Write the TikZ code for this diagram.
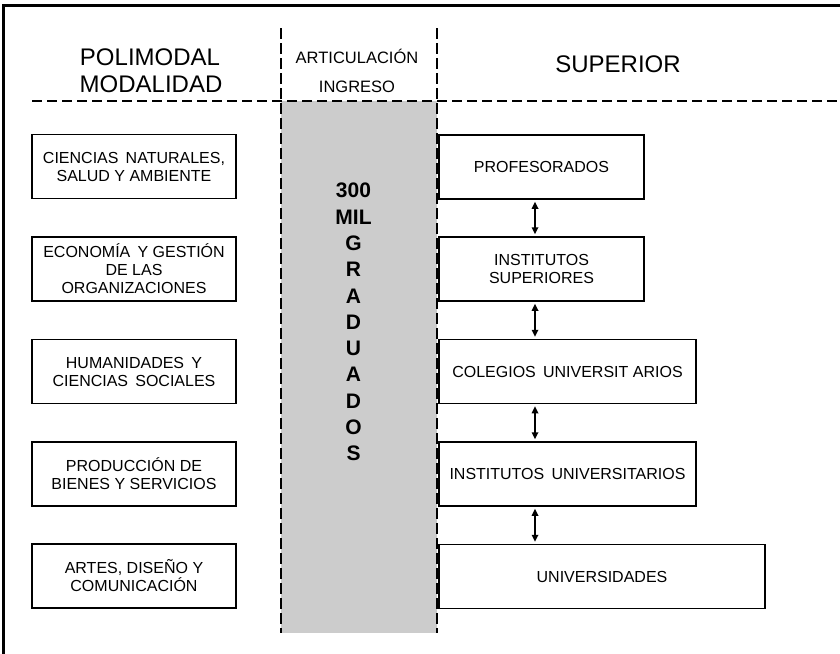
\documentclass[tikz,border=0pt]{standalone}
\usepackage{fontspec}
\setmainfont{Liberation Sans}
\usetikzlibrary{arrows.meta}
\definecolor{colgray}{RGB}{204,204,204}
\newcommand{\wsp}{\hspace{0.45em}}
\begin{document}
\begin{tikzpicture}[x=1pt,y=-1pt,
  box/.style={draw,line width=1.5pt,inner sep=0pt,minimum height=64pt,align=center,font=\fontsize{16}{18}\selectfont},
  hdrbig/.style={font=\fontsize{24}{27}\selectfont,inner sep=0pt,anchor=base},
  hdrsmall/.style={font=\fontsize{16.5}{29}\selectfont,inner sep=0pt,anchor=base},
  hdash/.style={line width=1.3pt,dash pattern=on 10pt off 5pt},
  vdash/.style={line width=1.3pt,dash pattern=on 11pt off 4pt},
  dbl/.style={line width=1.6pt,{Triangle[length=7pt,width=6.5pt]}-{Triangle[length=7pt,width=6.5pt]},shorten <=2pt,shorten >=2pt}
]
\useasboundingbox (0,0) rectangle (840,653);
\fill[white] (0,0) rectangle (840,653);
\fill[colgray] (281,101) rectangle (437,633);
\draw[line width=2.3pt] (3.5,660) -- (3.5,5.5) -- (845,5.5);

\draw[hdash] (32,101) -- (840,101);
\draw[vdash] (281,28) -- (281,633);
\draw[vdash] (437,28) -- (437,633);

\node[hdrbig] (pol1) at (150,65) {POLIMODAL};
\node[hdrbig] (pol2) at (151,92) {MODALIDAD};
\node[hdrsmall] (art1) at (357,63) {ARTICULACIÓN};
\node[hdrsmall] (art2) at (357,92) {INGRESO};
\node[hdrbig] (sup) at (618,72.7) {SUPERIOR};

\node[anchor=north,inner sep=0pt,align=center,font=\fontsize{21}{26.3}\selectfont\bfseries] (grad) at (353.5,183)
  {300\\MIL\\G\\R\\A\\D\\U\\A\\D\\O\\S};

\node[box,minimum width=204pt] (l1) at (134,166.5) {CIENCIAS\wsp NATURALES,\\SALUD Y AMBIENTE};
\node[box,minimum width=204pt] (l2) at (134,269) {ECONOMÍA\wsp Y GESTIÓN\\DE LAS\\ORGANIZACIONES};
\node[box,minimum width=204pt] (l3) at (134,371.5) {HUMANIDADES\wsp Y\\CIENCIAS\wsp SOCIALES};
\node[box,minimum width=204pt] (l4) at (134,474) {PRODUCCIÓN DE\\BIENES Y SERVICIOS};
\node[box,minimum width=204pt] (l5) at (134,576) {ARTES, DISEÑO Y\\COMUNICACIÓN};

\node[box,minimum width=205pt] (r1) at (541.5,167) {PROFESORADOS};
\node[box,minimum width=205pt] (r2) at (541.5,269) {INSTITUTOS\\SUPERIORES};
\node[box,minimum width=257pt] (r3) at (567.5,371.5) {COLEGIOS\wsp UNIVERSIT ARIOS};
\node[box,minimum width=257pt] (r4) at (567.5,474) {INSTITUTOS\wsp UNIVERSITARIOS};
\node[box,minimum width=326pt] (r5) at (602,576.5) {UNIVERSIDADES};

\coordinate (ax) at (535,0);
\draw[dbl] (r1.south -| ax) -- (r2.north -| ax);
\draw[dbl] (r2.south -| ax) -- (r3.north -| ax);
\draw[dbl] (r3.south -| ax) -- (r4.north -| ax);
\draw[dbl] (r4.south -| ax) -- (r5.north -| ax);
\end{tikzpicture}
\end{document}
